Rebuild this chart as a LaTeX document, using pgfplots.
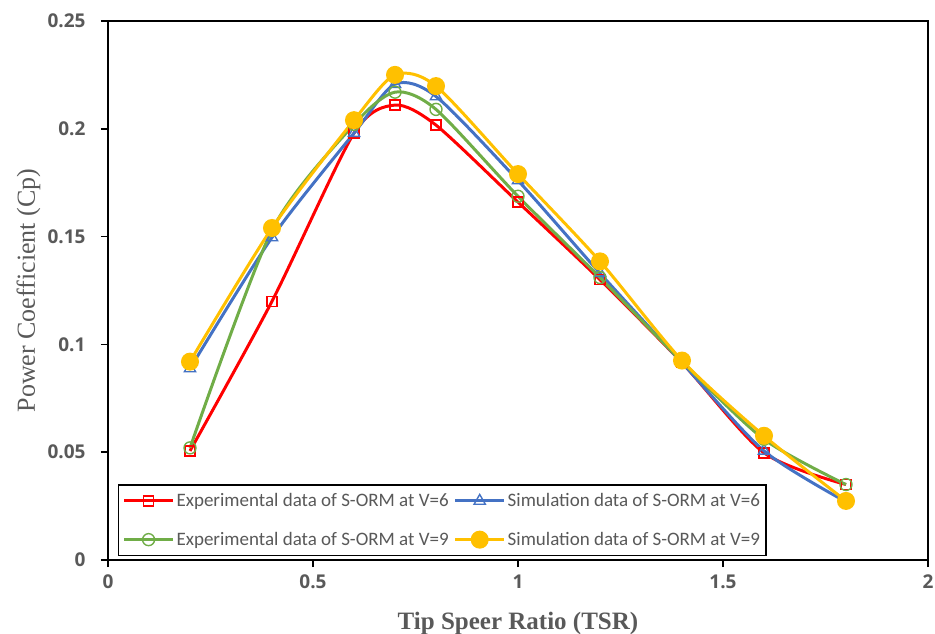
\documentclass[border=0pt]{standalone}
\usepackage{pgfplots}
\pgfplotsset{compat=1.18}
\usepackage{fontspec}
\setmainfont{Carlito}
\newfontfamily\tickfont{Open Sans}
\newfontfamily\labfont{Liberation Serif}
\definecolor{cred}{HTML}{FF0000}
\definecolor{cblue}{HTML}{4472C4}
\definecolor{cgreen}{HTML}{70AD47}
\definecolor{cyellow}{HTML}{FFC000}
\definecolor{tgray}{HTML}{595959}
\begin{document}
\begin{tikzpicture}
\begin{axis}[
  name=ax,
  scale only axis,
  width=820bp, height=539bp,
  xmin=0, xmax=2, ymin=0, ymax=0.25,
  xtick={0,0.5,1,1.5,2},
  ytick={0,0.05,0.1,0.15,0.2,0.25},
  xticklabels={0,0.5,1,1.5,2},
  yticklabels={0,0.05,0.1,0.15,0.2,0.25},
  tick align=outside,
  xtick pos=bottom, ytick pos=left,
  major tick length=7bp,
  tick style={black, line width=1.5pt},
  axis line style={black, line width=1.5pt},
  ticklabel style={font=\tickfont\bfseries\fontsize{19bp}{21bp}\selectfont, text=tgray},
  xticklabel style={yshift=-4bp},
  yticklabel style={xshift=-12bp},
  xlabel={Tip Speer Ratio (TSR)},
  ylabel={Power Coefficient (Cp)},
  xlabel style={font=\labfont\bfseries\fontsize{25bp}{27bp}\selectfont, text=tgray,
    at={(axis description cs:0.5,-0.118)}, anchor=center},
  ylabel style={font=\labfont\fontsize{26bp}{28bp}\selectfont, text=tgray,
    at={(axis description cs:-0.097,0.5)}, anchor=center},
  legend columns=2,
  legend style={at={(rel axis cs:0.012,0.007)}, anchor=south west,
    draw=black, line width=1.5pt, font=\fontsize{19bp}{21bp}\selectfont, text=tgray,
    row sep=20bp, inner xsep=4bp, inner ysep=6.5bp,
    /tikz/every even column/.append style={column sep=3bp}},
  legend cell align=left,
  legend image code/.code={
    \draw[#1, line width=3pt, mark repeat=2, mark phase=2] plot coordinates {(0bp,0bp) (24.5bp,0bp) (49bp,0bp)};
  },
  every axis plot/.append style={line width=3pt, smooth, tension=0.45},
]
\addplot[cred, mark=square, mark size=5bp, mark options={line width=1.4pt, solid, draw=cred, fill=none}] coordinates {
(0.2,0.0506) (0.4,0.120) (0.6,0.198) (0.7,0.211) (0.8,0.2017) (1.0,0.166) (1.2,0.130) (1.4,0.0915) (1.6,0.0497) (1.8,0.035)};
\addlegendentry{Experimental data of S-ORM at V=6}
\addplot[cblue, mark=triangle, mark size=6.5bp, mark options={line width=1.4pt, solid, draw=cblue, fill=none}] coordinates {
(0.2,0.0888) (0.4,0.1496) (0.6,0.198) (0.7,0.2207) (0.8,0.215) (1.0,0.176) (1.2,0.133) (1.4,0.0915) (1.6,0.0506) (1.8,0.027)};
\addlegendentry{Simulation data of S-ORM at V=6}
\addplot[cgreen, mark=o, mark size=6bp, mark options={line width=1.4pt, solid, draw=cgreen, fill=none}] coordinates {
(0.2,0.052) (0.4,0.153) (0.6,0.202) (0.7,0.217) (0.8,0.209) (1.0,0.1687) (1.2,0.131) (1.4,0.092) (1.6,0.056) (1.8,0.035)};
\addlegendentry{Experimental data of S-ORM at V=9}
\addplot[cyellow, mark=*, mark size=7.5bp, mark options={solid, fill=cyellow, draw=cyellow}] coordinates {
(0.2,0.092) (0.4,0.154) (0.6,0.204) (0.7,0.225) (0.8,0.2198) (1.0,0.179) (1.2,0.1385) (1.4,0.0925) (1.6,0.0576) (1.8,0.0274)};
\addlegendentry{Simulation data of S-ORM at V=9}
\end{axis}
\pgfresetboundingbox
\path[use as bounding box] ([xshift=-108bp,yshift=-74bp]ax.south west) rectangle ([xshift=7bp,yshift=21bp]ax.north east);
\end{tikzpicture}
\end{document}
